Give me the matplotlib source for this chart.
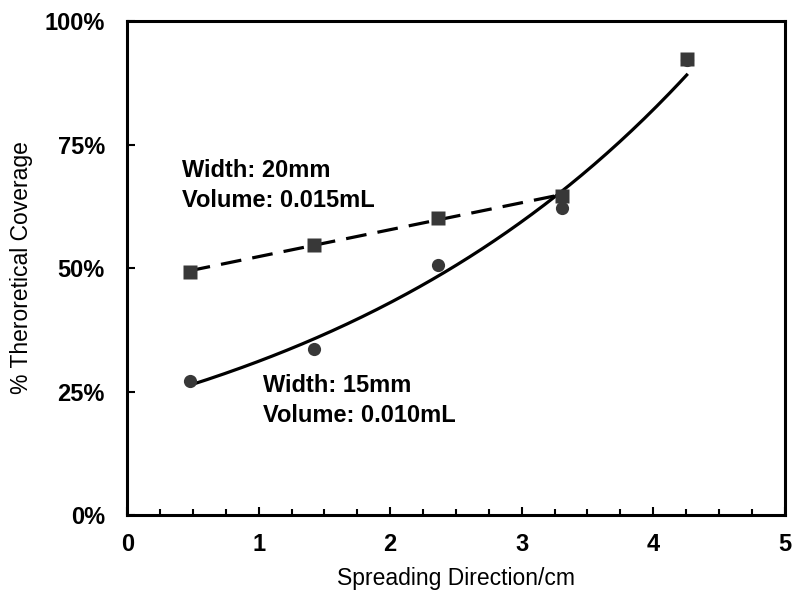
import numpy as np
import matplotlib
matplotlib.use("Agg")
from matplotlib import pyplot as plt
from matplotlib.ticker import MultipleLocator, FuncFormatter

# spreading distance (cm) and measured coverage (%)
x = [0.475, 1.42, 2.36, 3.31, 4.255]
cov_20mm = [49.3, 54.6, 60.2, 64.6, 92.3]
cov_15mm = [27.2, 33.6, 50.7, 62.1, 92.0]

plt.rcParams['font.family'] = ['Liberation Sans', 'DejaVu Sans']
plt.rcParams['font.weight'] = 'bold'

fig = plt.figure(figsize=(7.95, 5.99), dpi=100)
ax = fig.add_axes([0.16, 0.14, 0.827, 0.825])

mk = '#383838'

# exponential trend for the 15mm set (fit on log scale)
b, lna = np.polyfit(x, np.log(cov_15mm), 1)
xf = np.linspace(x[0], x[-1], 200)
ax.plot(xf, np.exp(lna) * np.exp(b * xf), color='black', lw=2.3, zorder=2)

# linear trend for the first four points of the 20mm set
m, c = np.polyfit(x[:4], cov_20mm[:4], 1)
xl = np.array([x[0], x[3]])
ax.plot(xl, m * xl + c, color='black', lw=2.3, dashes=(6.5, 3.5), zorder=2)

ax.plot(x, cov_15mm, 'o', color=mk, ms=9.5, mec='none', zorder=3)
ax.plot(x, cov_20mm, 's', color=mk, ms=9.5, mec='none', zorder=3)

ax.text(0.42, 72.0, 'Width: 20mm\nVolume: 0.015mL', fontsize=17,
        fontweight='bold', va='top', ha='left', linespacing=1.35)
ax.text(1.03, 28.5, 'Width: 15mm\nVolume: 0.010mL', fontsize=17,
        fontweight='bold', va='top', ha='left', linespacing=1.35)

ax.set_xlim(0, 5)
ax.set_ylim(0, 100)
ax.xaxis.set_major_locator(MultipleLocator(1))
ax.xaxis.set_minor_locator(MultipleLocator(0.25))
ax.yaxis.set_major_locator(MultipleLocator(25))
ax.yaxis.set_major_formatter(FuncFormatter(lambda v, p: '%d%%' % v))
ax.tick_params(which='both', direction='in', top=False, right=False,
               labelsize=17, width=1.5)
ax.tick_params(axis='x', pad=13)
ax.tick_params(axis='y', pad=16)
ax.tick_params(which='major', length=6)
ax.tick_params(which='minor', length=4)
for s in ax.spines.values():
    s.set_linewidth(2.2)

ax.set_xlabel('Spreading Direction/cm', fontsize=16.5, fontweight='normal', labelpad=8)
ax.set_ylabel('% Theroretical Coverage', fontsize=16.5, fontweight='normal', labelpad=8)

fig.savefig('out.png', dpi=100)
